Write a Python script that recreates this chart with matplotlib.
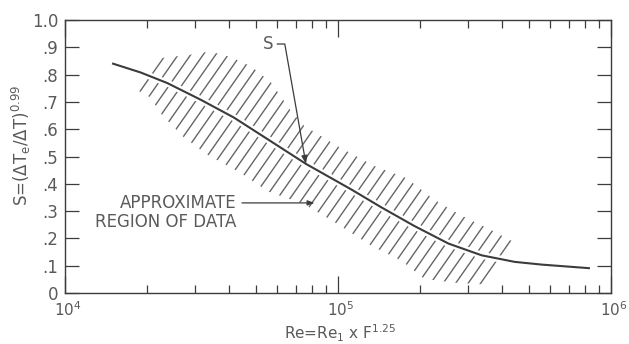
import numpy as np
import matplotlib
matplotlib.use('Agg')
import matplotlib.pyplot as plt
import matplotlib.transforms as mtransforms
from matplotlib.collections import LineCollection
from matplotlib.patches import Polygon
from matplotlib.ticker import FixedLocator, LogLocator, NullFormatter

# S curve
re_curve = [1.50e4, 1.89e4, 2.37e4, 3.14e4, 4.15e4, 5.53e4, 7.63e4, 1.12e5,
            1.44e5, 1.90e5, 2.54e5, 3.36e5, 4.44e5, 5.58e5, 8.30e5]
s_curve = [0.840, 0.808, 0.769, 0.708, 0.643, 0.563, 0.473, 0.379,
           0.314, 0.246, 0.181, 0.138, 0.114, 0.104, 0.091]

# approximate region of data (upper and lower edges)
upper_re = [2.27e4, 2.88e4, 3.36e4, 3.78e4, 4.22e4, 4.79e4, 5.67e4, 6.72e4,
            7.50e4, 1.00e5, 1.36e5, 1.78e5, 2.25e5, 2.83e5, 3.65e5, 4.40e5]
upper_s = [0.861, 0.873, 0.884, 0.874, 0.856, 0.831, 0.773, 0.667,
           0.613, 0.537, 0.465, 0.421, 0.342, 0.284, 0.230, 0.187]
lower_re = [1.85e4, 2.05e4, 2.27e4, 2.72e4, 3.33e4, 4.40e4, 5.53e4, 7.50e4,
            9.66e4, 1.32e5, 1.71e5, 2.07e5, 2.65e5, 3.36e5]
lower_s = [0.742, 0.717, 0.651, 0.571, 0.506, 0.440, 0.372, 0.326,
           0.261, 0.174, 0.118, 0.052, 0.038, 0.032]

y_ticks = [0, 0.1, 0.2, 0.3, 0.4, 0.5, 0.6, 0.7, 0.8, 0.9, 1.0]
y_labels = ['0', '.1', '.2', '.3', '.4', '.5', '.6', '.7', '.8', '.9', '1.0']
x_ticks = [1e4, 1e5, 1e6]
x_labels = [r'$\mathregular{10^4}$', r'$\mathregular{10^5}$', r'$\mathregular{10^6}$']

ink = '#3c3c3c'
text_c = '#5a5a5a'

W_PX, H_PX = 629, 344
fig = plt.figure(figsize=(W_PX / 100, H_PX / 100), dpi=100)
fig.patch.set_facecolor('white')

# axes box in pixels
left, right, top, bottom = 65, 611, 20, 293
ax = fig.add_axes([left / W_PX, 1 - bottom / H_PX,
                   (right - left) / W_PX, (bottom - top) / H_PX])
ax_w, ax_h = right - left, bottom - top

ax.set_xscale('log')
ax.set_xlim(1e4, 1e6)
ax.set_ylim(0, 1.0)

# hatched band: slanted strokes clipped to the region outline
band = Polygon(np.column_stack([upper_re + lower_re[::-1],
                                upper_s + lower_s[::-1]]),
               closed=True, facecolor='none', edgecolor='none',
               transform=ax.transData)
ax.add_patch(band)

angle = np.deg2rad(55)
run = ax_h / np.tan(angle)
starts = np.arange(-run, ax_w, 12.5)
segs = [[(x0 / ax_w, 0), ((x0 + run) / ax_w, 1)] for x0 in starts]
hatch = LineCollection(segs, colors='#666666', linewidths=1.0,
                       transform=ax.transAxes)
ax.add_collection(hatch)
hatch.set_clip_path(band)

# curve with a thin white break through the hatching
ax.plot(re_curve, s_curve, color='white', lw=5, zorder=2.5,
        solid_capstyle='butt')
ax.plot(re_curve, s_curve, color=ink, lw=1.5, zorder=3)

# frame and ticks
for sp in ax.spines.values():
    sp.set_color(ink)
    sp.set_linewidth(1.0)

ax.xaxis.set_major_locator(FixedLocator(x_ticks))
ax.set_xticklabels(x_labels)
ax.xaxis.set_minor_locator(LogLocator(base=10, subs=np.arange(2, 10)))
ax.xaxis.set_minor_formatter(NullFormatter())
ax.set_yticks(y_ticks)
ax.set_yticklabels(y_labels)

ax.tick_params(which='both', direction='in', top=True, right=True,
               color=ink, width=0.9, labelcolor=text_c)
ax.tick_params(axis='x', which='major', length=12, pad=5, labelsize=11)
ax.tick_params(axis='x', which='minor', length=6)
ax.tick_params(axis='y', which='major', length=10, pad=5, labelsize=12)

shift = mtransforms.ScaledTranslation(3 / 100, 0, fig.dpi_scale_trans)
for lab in ax.get_xticklabels():
    lab.set_transform(lab.get_transform() + shift)

# axis titles
fig.text(340 / W_PX, 1 - 333 / H_PX,
         r'Re=Re$_\mathregular{1}$ x F$^\mathregular{1.25}$',
         ha='center', va='center', fontsize=11, color=text_c)
fig.text(21 / W_PX, 1 - 145 / H_PX,
         r'S=($\Delta$T$_\mathregular{e}$/$\Delta$T)$^\mathregular{0.99}$',
         ha='center', va='center', rotation=90, fontsize=12, color=text_c)

# labels on the plot
ax.annotate('S', xy=(7.63e4, 0.473), xytext=(5.53e4, 0.912),
            ha='center', va='center', fontsize=12, color=text_c,
            arrowprops=dict(arrowstyle='-|>,head_length=0.4,head_width=0.15',
                            connectionstyle='angle,angleA=0,angleB=100,rad=0',
                            color=ink, lw=0.9, shrinkA=1, shrinkB=0))

ax.text(4.26e4, 0.295, 'APPROXIMATE\nREGION OF DATA', ha='right', va='center',
        multialignment='right', fontsize=12, color=text_c, linespacing=1.05)
ax.annotate('', xy=(8.2e4, 0.330), xytext=(4.45e4, 0.330),
            arrowprops=dict(arrowstyle='-|>,head_length=0.4,head_width=0.15',
                            color=ink, lw=0.9, shrinkA=0, shrinkB=0))

fig.savefig('out.png', dpi=100, facecolor='white')
